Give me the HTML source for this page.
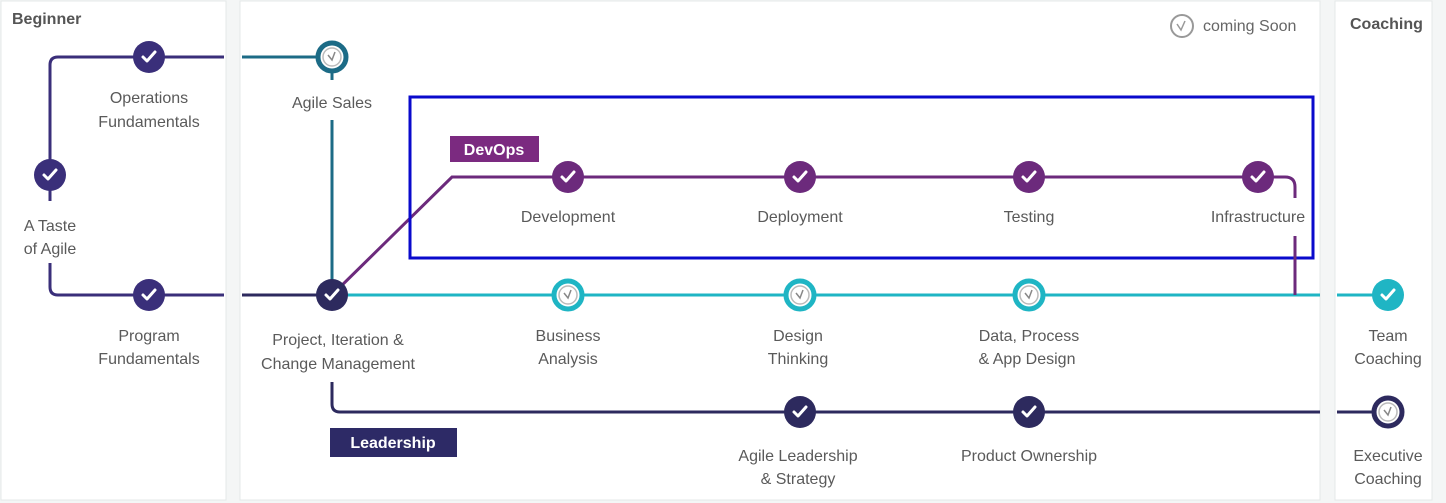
<!DOCTYPE html>
<html><head><meta charset="utf-8"><style>
html,body{margin:0;padding:0;background:#f4f6f6;}
svg{display:block;font-family:"Liberation Sans",sans-serif;}
.l{font-size:16px;fill:#5a5a5a;text-anchor:middle;}
.h{font-size:16px;font-weight:bold;fill:#555;}
</style></head><body>
<svg width="1446" height="503" viewBox="0 0 1446 503">
<defs>
<g id="chk"><path d="M-6,0 L-2,4 L6,-5" fill="none" stroke="#fff" stroke-width="3" stroke-linecap="round" stroke-linejoin="round"/></g>
<g id="clk"><circle r="9" fill="#fff" stroke="#bbb" stroke-width="1.5"/><path d="M-4,-2 L0,3 L3,-5" fill="none" stroke="#888" stroke-width="1.5"/></g>
</defs>
<rect x="1" y="1" width="225" height="499" fill="#fff" stroke="#e4e8e8"/>
<rect x="240" y="1" width="1080" height="499" fill="#fff" stroke="#e4e8e8"/>
<rect x="1335" y="1" width="97" height="499" fill="#fff" stroke="#e4e8e8"/>
<text x="12" y="24" class="h">Beginner</text>
<text x="1350" y="29" class="h">Coaching</text>
<circle cx="1182" cy="26" r="11" fill="none" stroke="#999" stroke-width="2"/>
<path d="M1177,24 L1181,30 L1185,21" fill="none" stroke="#999" stroke-width="1.5"/>
<text x="1203" y="31" font-size="16" fill="#666">coming Soon</text>

<!-- beginner lines -->
<path d="M224,57 H58 Q50,57 50,65 V287 Q50,295 58,295 H224" fill="none" stroke="#3a2f7a" stroke-width="3"/>
<rect x="30" y="201" width="40" height="62" fill="#fff"/>
<!-- middle -->
<path d="M242,57 H332 V295" fill="none" stroke="#1c6b86" stroke-width="3"/>
<rect x="300" y="80" width="60" height="40" fill="#fff"/>
<path d="M242,295 H332" stroke="#2d2a5e" stroke-width="3"/>
<path d="M332,295 H1320" stroke="#1fb5c4" stroke-width="3"/>
<path d="M332,295 L452,177 H1285 Q1295,177 1295,187 V295" fill="none" stroke="#6c2a7c" stroke-width="3"/>
<rect x="1280" y="198" width="30" height="38" fill="#fff"/>
<path d="M332,382 V404 Q332,412 340,412 H1320" fill="none" stroke="#2d2a5e" stroke-width="3"/>
<rect x="410" y="97" width="903" height="161" fill="none" stroke="#0a0acc" stroke-width="3"/>
<path d="M1295,236 V295" stroke="#6c2a7c" stroke-width="3"/>
<rect x="450" y="136" width="89" height="26" fill="#7b2a80"/>
<text x="494" y="155" font-size="16" font-weight="bold" fill="#fff" text-anchor="middle">DevOps</text>
<rect x="330" y="428" width="127" height="29" fill="#2d2a66"/>
<text x="393" y="448" font-size="16" font-weight="bold" fill="#fff" text-anchor="middle">Leadership</text>
<!-- right -->
<path d="M1337,295 H1388" stroke="#1fb5c4" stroke-width="3"/>
<path d="M1337,412 H1388" stroke="#2d2a5e" stroke-width="3"/>

<!-- nodes -->
<g fill="#3a2f7a"><circle cx="149" cy="57" r="16"/><circle cx="50" cy="175" r="16"/><circle cx="149" cy="295" r="16"/></g>
<use href="#chk" x="149" y="57"/><use href="#chk" x="50" y="175"/><use href="#chk" x="149" y="295"/>
<circle cx="332" cy="57" r="14" fill="#fff" stroke="#1c6b86" stroke-width="5"/><use href="#clk" x="332" y="57"/>
<circle cx="332" cy="295" r="16" fill="#2d2a5e"/><use href="#chk" x="332" y="295"/>
<g fill="#6c2a7c"><circle cx="568" cy="177" r="16"/><circle cx="800" cy="177" r="16"/><circle cx="1029" cy="177" r="16"/><circle cx="1258" cy="177" r="16"/></g>
<use href="#chk" x="568" y="177"/><use href="#chk" x="800" y="177"/><use href="#chk" x="1029" y="177"/><use href="#chk" x="1258" y="177"/>
<g fill="#fff" stroke="#1fb5c4" stroke-width="5"><circle cx="568" cy="295" r="14"/><circle cx="800" cy="295" r="14"/><circle cx="1029" cy="295" r="14"/></g>
<use href="#clk" x="568" y="295"/><use href="#clk" x="800" y="295"/><use href="#clk" x="1029" y="295"/>
<g fill="#2d2a5e"><circle cx="800" cy="412" r="16"/><circle cx="1029" cy="412" r="16"/></g>
<use href="#chk" x="800" y="412"/><use href="#chk" x="1029" y="412"/>
<circle cx="1388" cy="295" r="16" fill="#1fb5c4"/><use href="#chk" x="1388" y="295"/>
<circle cx="1388" cy="412" r="14" fill="#fff" stroke="#2d2a5e" stroke-width="5"/><use href="#clk" x="1388" y="412"/>

<!-- labels -->
<text class="l" x="149" y="103">Operations</text><text class="l" x="149" y="127">Fundamentals</text>
<text class="l" x="50" y="231">A Taste</text><text class="l" x="50" y="254">of Agile</text>
<text class="l" x="149" y="341">Program</text><text class="l" x="149" y="364">Fundamentals</text>
<text class="l" x="332" y="108">Agile Sales</text>
<text class="l" x="338" y="345">Project, Iteration &amp;</text><text class="l" x="338" y="369">Change Management</text>
<text class="l" x="568" y="222">Development</text>
<text class="l" x="800" y="222">Deployment</text>
<text class="l" x="1029" y="222">Testing</text>
<text class="l" x="1258" y="222">Infrastructure</text>
<text class="l" x="568" y="341">Business</text><text class="l" x="568" y="364">Analysis</text>
<text class="l" x="798" y="341">Design</text><text class="l" x="798" y="364">Thinking</text>
<text class="l" x="1029" y="341">Data, Process</text><text class="l" x="1027" y="364">&amp; App Design</text>
<text class="l" x="798" y="461">Agile Leadership</text><text class="l" x="798" y="484">&amp; Strategy</text>
<text class="l" x="1029" y="461">Product Ownership</text>
<text class="l" x="1388" y="341">Team</text><text class="l" x="1388" y="364">Coaching</text>
<text class="l" x="1388" y="461">Executive</text><text class="l" x="1388" y="484">Coaching</text>
</svg>
</body></html>
